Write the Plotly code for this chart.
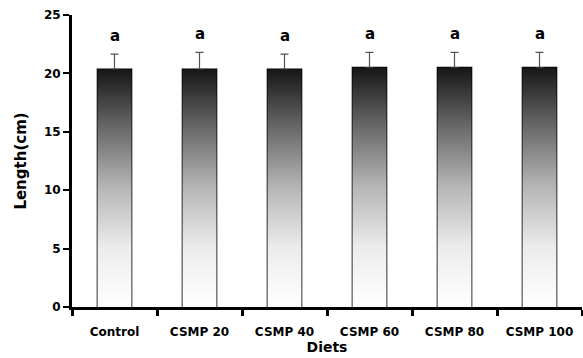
import plotly.graph_objects as go

diets = ["Control", "CSMP 20", "CSMP 40", "CSMP 60", "CSMP 80", "CSMP 100"]
length_mean = [20.35, 20.35, 20.35, 20.5, 20.5, 20.5]
length_err = [1.3, 1.45, 1.3, 1.3, 1.3, 1.3]
letters = ["a", "a", "a", "a", "a", "a"]

BAR_W = 0.4
FONT = "DejaVu Sans"
pos = list(range(len(diets)))

fig = go.Figure()

grad = [[0, "#ffffff"], [0.25, "#ececec"], [0.5, "#b6b6b6"],
        [0.75, "#6a6a6a"], [1, "#161616"]]

for p, v in zip(pos, length_mean):
    x0, x1 = p - BAR_W / 2, p + BAR_W / 2
    fig.add_trace(go.Scatter(
        x=[x0, x1, x1, x0, x0], y=[0, 0, v, v, 0],
        mode="lines", line=dict(width=0), fill="toself",
        fillgradient=dict(type="vertical", colorscale=grad, start=0, stop=v),
        hoverinfo="skip", showlegend=False))

fig.add_trace(go.Bar(
    x=pos, y=length_mean, width=BAR_W,
    marker=dict(color="rgba(0,0,0,0)", line=dict(color="black", width=1.6)),
    error_y=dict(type="data", array=length_err, arrayminus=[0] * 6,
                 symmetric=False, color="#555555", thickness=1.2, width=4),
    hoverinfo="skip", showlegend=False))

for p, v, e, t in zip(pos, length_mean, length_err, letters):
    fig.add_annotation(x=p, y=v + e, text="<b>%s</b>" % t, showarrow=False,
                       yshift=18, font=dict(family=FONT, size=15, color="black"))

fig.update_layout(
    width=583, height=358,
    margin=dict(l=72, r=1, t=15, b=51),
    plot_bgcolor="white", paper_bgcolor="white",
    xaxis=dict(
        range=[-0.5, 5.5], tickmode="array", tickvals=pos, ticktext=diets,
        ticks="", showline=True, linecolor="black", linewidth=3,
        showgrid=False, zeroline=False, ticklabelstandoff=12,
        tickfont=dict(family=FONT, size=12, color="black", weight="bold"),
        minor=dict(ticks="outside", tickmode="linear", tick0=-0.5, dtick=1,
                   ticklen=6, tickwidth=3, tickcolor="black"),
        title=dict(text="<b>Diets</b>", standoff=0,
                   font=dict(family=FONT, size=14, color="black")),
    ),
    yaxis=dict(
        range=[0, 25], tickvals=[0, 5, 10, 15, 20, 25],
        ticks="outside", ticklen=6, tickwidth=2, tickcolor="black",
        showline=True, linecolor="black", linewidth=3,
        showgrid=False, zeroline=False,
        tickfont=dict(family=FONT, size=12, color="black", weight="bold"),
        title=dict(text="<b>Length(cm)</b>", standoff=14,
                   font=dict(family=FONT, size=15, color="black")),
    ),
)

fig.write_html("out.html", config={"displayModeBar": False},
               post_script="document.body.style.margin='0';"
                           "document.body.style.overflow='hidden';")
